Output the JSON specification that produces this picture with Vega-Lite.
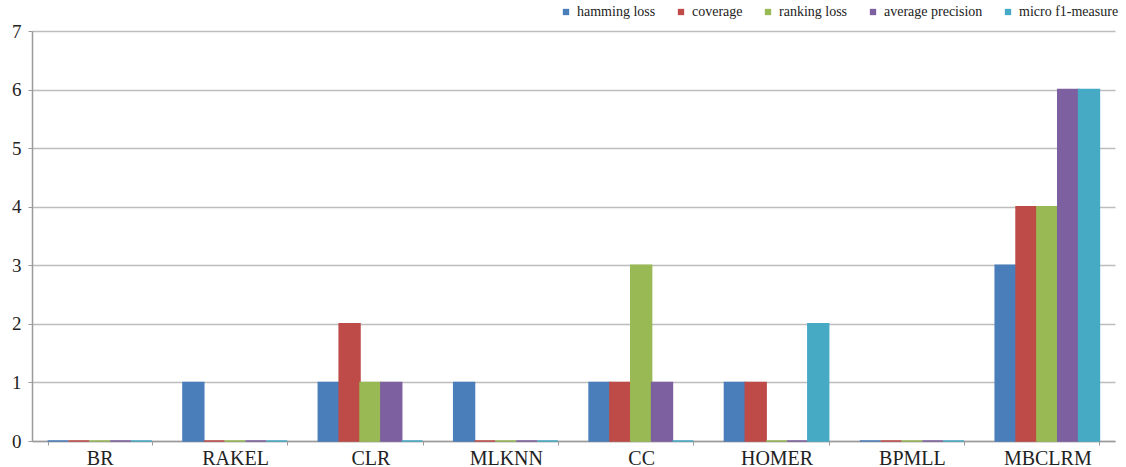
{
  "$schema": "https://vega.github.io/schema/vega-lite/v6.json",
  "width": 1083,
  "height": 410,
  "autosize": {"type": "none"},
  "padding": {"left": 32, "top": 31, "right": 11, "bottom": 26},
  "background": "#ffffff",
  "config": {
    "view": {"stroke": null},
    "font": "Liberation Serif",
    "axis": {"labelFont": "Liberation Serif"},
    "legend": {"labelFont": "Liberation Serif"}
  },
  "data": {
    "values": [
      {"method": "BR", "measure": "hamming loss", "count": 0},
      {"method": "BR", "measure": "coverage", "count": 0},
      {"method": "BR", "measure": "ranking loss", "count": 0},
      {"method": "BR", "measure": "average precision", "count": 0},
      {"method": "BR", "measure": "micro f1-measure", "count": 0},
      {"method": "RAKEL", "measure": "hamming loss", "count": 1},
      {"method": "RAKEL", "measure": "coverage", "count": 0},
      {"method": "RAKEL", "measure": "ranking loss", "count": 0},
      {"method": "RAKEL", "measure": "average precision", "count": 0},
      {"method": "RAKEL", "measure": "micro f1-measure", "count": 0},
      {"method": "CLR", "measure": "hamming loss", "count": 1},
      {"method": "CLR", "measure": "coverage", "count": 2},
      {"method": "CLR", "measure": "ranking loss", "count": 1},
      {"method": "CLR", "measure": "average precision", "count": 1},
      {"method": "CLR", "measure": "micro f1-measure", "count": 0},
      {"method": "MLKNN", "measure": "hamming loss", "count": 1},
      {"method": "MLKNN", "measure": "coverage", "count": 0},
      {"method": "MLKNN", "measure": "ranking loss", "count": 0},
      {"method": "MLKNN", "measure": "average precision", "count": 0},
      {"method": "MLKNN", "measure": "micro f1-measure", "count": 0},
      {"method": "CC", "measure": "hamming loss", "count": 1},
      {"method": "CC", "measure": "coverage", "count": 1},
      {"method": "CC", "measure": "ranking loss", "count": 3},
      {"method": "CC", "measure": "average precision", "count": 1},
      {"method": "CC", "measure": "micro f1-measure", "count": 0},
      {"method": "HOMER", "measure": "hamming loss", "count": 1},
      {"method": "HOMER", "measure": "coverage", "count": 1},
      {"method": "HOMER", "measure": "ranking loss", "count": 0},
      {"method": "HOMER", "measure": "average precision", "count": 0},
      {"method": "HOMER", "measure": "micro f1-measure", "count": 2},
      {"method": "BPMLL", "measure": "hamming loss", "count": 0},
      {"method": "BPMLL", "measure": "coverage", "count": 0},
      {"method": "BPMLL", "measure": "ranking loss", "count": 0},
      {"method": "BPMLL", "measure": "average precision", "count": 0},
      {"method": "BPMLL", "measure": "micro f1-measure", "count": 0},
      {"method": "MBCLRM", "measure": "hamming loss", "count": 3},
      {"method": "MBCLRM", "measure": "coverage", "count": 4},
      {"method": "MBCLRM", "measure": "ranking loss", "count": 4},
      {"method": "MBCLRM", "measure": "average precision", "count": 6},
      {"method": "MBCLRM", "measure": "micro f1-measure", "count": 6}
    ]
  },
  "mark": {"type": "bar", "strokeWidth": 1.5},
  "encoding": {
    "x": {
      "field": "method",
      "type": "nominal",
      "sort": null,
      "scale": {"paddingInner": 0.23, "paddingOuter": 0.115},
      "axis": {
        "title": null,
        "labelAngle": 0,
        "labelFont": "Liberation Serif",
        "labelFontSize": 20,
        "labelColor": "#222222",
        "labelPadding": 3,
        "labelBaseline": "top",
        "domainColor": "#9a9a9a",
        "domainWidth": 1.5,
        "tickBand": "extent",
        "tickColor": "#9a9a9a",
        "tickSize": 4
      }
    },
    "xOffset": {
      "field": "measure",
      "sort": ["hamming loss", "coverage", "ranking loss", "average precision", "micro f1-measure"],
      "scale": {"paddingInner": 0, "paddingOuter": 0}
    },
    "y": {
      "field": "count",
      "type": "quantitative",
      "scale": {"domain": [0, 7], "nice": false},
      "axis": {
        "title": null,
        "values": [0, 1, 2, 3, 4, 5, 6, 7],
        "labelFont": "Liberation Serif",
        "labelFontSize": 19,
        "labelColor": "#222222",
        "labelPadding": 7,
        "labelOverlap": false,
        "domainColor": "#9a9a9a",
        "domainWidth": 1.5,
        "tickColor": "#9a9a9a",
        "tickSize": 4,
        "gridColor": "#bdbdbd",
        "gridWidth": 1.5
      }
    },
    "color": {
      "field": "measure",
      "type": "nominal",
      "scale": {
        "domain": ["hamming loss", "coverage", "ranking loss", "average precision", "micro f1-measure"],
        "range": ["#4a7ebb", "#be4b48", "#98b954", "#7d60a0", "#46aac5"]
      },
      "legend": {
        "title": null,
        "orient": "none",
        "direction": "horizontal",
        "legendX": 527,
        "legendY": -26,
        "symbolType": "square",
        "symbolSize": 40,
        "symbolStrokeWidth": 0,
        "labelFont": "Liberation Serif",
        "labelFontSize": 14,
        "labelColor": "#222222",
        "labelOffset": 4,
        "columnPadding": 18
      }
    },
    "stroke": {"field": "measure", "type": "nominal", "legend": null,
      "scale": {
        "domain": ["hamming loss", "coverage", "ranking loss", "average precision", "micro f1-measure"],
        "range": ["#4a7ebb", "#be4b48", "#98b954", "#7d60a0", "#46aac5"]
      }
    }
  }
}
